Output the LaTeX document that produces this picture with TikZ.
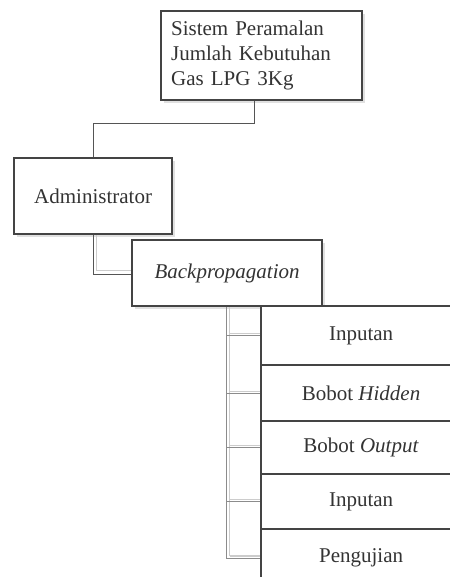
\documentclass[tikz,border=0pt]{standalone}
\usepackage{fontspec}
\setmainfont{Liberation Serif}
\usetikzlibrary{shadows}
\definecolor{boxline}{HTML}{444444}
\definecolor{ink}{HTML}{333333}
\definecolor{wire}{HTML}{555555}
\definecolor{wirelight}{HTML}{CCCCCC}
\begin{document}
\begin{tikzpicture}[x=1pt,y=-1pt,
  box/.style={draw=boxline, line width=2.2pt, fill=white, rectangle,
    anchor=north west, inner sep=0pt, text=ink,
    font=\fontsize{21}{25}\selectfont,
    drop shadow={shadow xshift=2.5pt, shadow yshift=-2.5pt, fill=black!12, opacity=1}},
  wire/.style={draw=wire, line width=0.9pt},
  wirefaint/.style={draw=wirelight, line width=0.9pt},
  trunk/.style={draw=black!45, line width=0.9pt}]
\useasboundingbox (0,0) rectangle (449,577);

% boxes
\node[box, minimum width=201pt, minimum height=89pt, text width=181pt,
      align=left, inner xsep=10pt] (top) at (160,10)
  {Sistem Peramalan\\Jumlah Kebutuhan\\Gas LPG 3Kg};
\node[box, minimum width=158pt, minimum height=76pt] (admin) at (13,157) {Administrator};
\node[box, minimum width=190pt, minimum height=66pt] (bp) at (131,239) {\itshape Backpropagation};

% child column (runs past the right and bottom page edges)
\node[box, minimum width=200pt, minimum height=59pt] (c1) at (260,305) {Inputan};
\node[box, minimum width=200pt, minimum height=56pt] (c2) at (260,364) {Bobot \textit{Hidden}};
\node[box, minimum width=200pt, minimum height=53pt] (c3) at (260,420) {Bobot \textit{Output}};
\node[box, minimum width=200pt, minimum height=55pt] (c4) at (260,473) {Inputan};
\node[box, minimum width=200pt, minimum height=58pt] (c5) at (260,528) {Pengujian};

% top -> administrator
\draw[wire] ([xshift=-7.5pt]top.south) -- ++(0,22) -| (admin.north);

% administrator -> backpropagation (double line)
\draw[wirefaint] ([xshift=3pt]admin.south) |- ([yshift=2.5pt]bp.west);
\draw[wire] (admin.south) |- ([yshift=-1pt]bp.west);

% backpropagation -> children
\coordinate (tr) at ([xshift=-1pt]bp.south);
\coordinate (trend) at (tr |- c5.west);
\draw[wirefaint] ([xshift=3.5pt]tr) -- ([xshift=3.5pt,yshift=2.5pt]trend) -- ([yshift=2.5pt]c5.west);
\draw[trunk] (tr) -- (trend);
\foreach \c in {c1,c2,c3,c4,c5}{
  \draw[wirefaint] ([xshift=3.5pt,yshift=2pt]tr |- \c.west) -- ([yshift=2pt]\c.west);
  \draw[trunk] (tr |- \c.west) -- (\c.west);
}
\end{tikzpicture}
\end{document}
